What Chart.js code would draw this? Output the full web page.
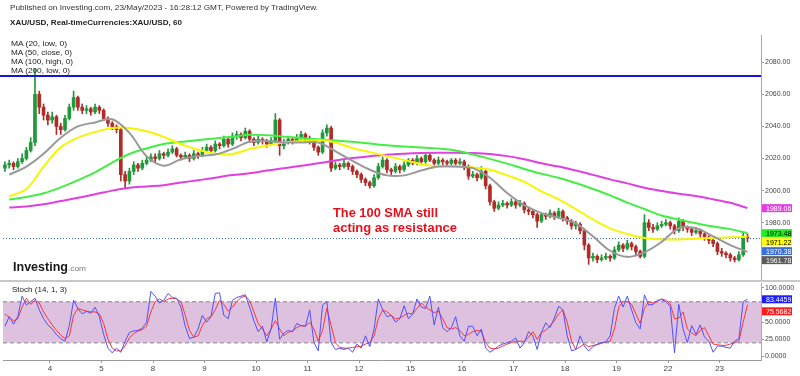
<!DOCTYPE html>
<html>
<head>
<meta charset="utf-8">
<script src="https://cdn.jsdelivr.net/npm/chart.js@4.4.0/dist/chart.umd.min.js"></script>
<style>
  html, body { margin: 0; padding: 0; background: #fff; }
  #wrap { position: relative; width: 800px; height: 376px; overflow: hidden; font-family: "Liberation Sans", Arial, sans-serif; }
  canvas { position: absolute; left: 0; }
  .t { position: absolute; white-space: nowrap; line-height: 1; transform-origin: 0 50%; color: #222; }
  #sep { position: absolute; left: 0; top: 280px; width: 800px; height: 2px; background: #c8c8c8; }
</style>
</head>
<body>
<div id="wrap">
  <canvas id="priceChart" width="800" height="281" style="top:0"></canvas>
  <div id="sep"></div>
  <canvas id="stochChart" width="800" height="95" style="top:281px"></canvas>

  <div class="t" data-w="308" data-cy="8" style="left:10px;font-size:8px;color:#333">Published on Investing.com, 23/May/2023 - 16:28:12 GMT, Powered by TradingView.</div>
  <div class="t" data-w="172" data-cy="23" style="left:10px;font-size:8px;font-weight:bold">XAU/USD, Real-timeCurrencies:XAU/USD, 60</div>
  <div class="t" data-w="56" data-cy="44" style="left:11px;font-size:8px">MA (20, low, 0)</div>
  <div class="t" data-w="61" data-cy="53" style="left:11px;font-size:8px">MA (50, close, 0)</div>
  <div class="t" data-w="62" data-cy="62" style="left:11px;font-size:8px">MA (100, high, 0)</div>
  <div class="t" data-w="59" data-cy="71" style="left:11px;font-size:8px">MA (200, low, 0)</div>
  <div class="t" data-w="105" data-cy="213" style="left:333px;font-size:12px;font-weight:bold;color:#e8101c">The 100 SMA still</div>
  <div class="t" data-w="124" data-cy="228" style="left:333px;font-size:12px;font-weight:bold;color:#e8101c">acting as resistance</div>
  <div class="t" data-w="55" data-cy="267" style="left:13px;font-size:12px;font-weight:bold;color:#1a1a1a">Investing</div>
  <div class="t" data-w="18" data-cy="269" style="left:68px;font-size:8px;color:#777">.com</div>
  <div class="t" data-w="55" data-cy="290" style="left:12px;font-size:8px">Stoch (14, 1, 3)</div>
</div>

<script>
// hourly XAU/USD, sampled every 2 hours (hour 0 = 3 May 00:00, 24 trading hours per day)
const firstCandleHour = 3;
const candleStepHours = 2;
const dayLabels = ['4', '5', '8', '9', '10', '11', '12', '15', '16', '17', '18', '19', '22', '23'];
const priceTicks = [1980, 2000, 2020, 2040, 2060, 2080];
const stochTicks = [0, 25, 50, 100];
const resistanceLevel = 2071.5;
const stochUpper = 80;
const stochLower = 20;

const opens = [
  2014,2016,2017,2015,2018,2020,2025,2030,2060,2052,
  2047,2044,2046,2040,2038,2045,2052,2058,2052,2050,
  2051,2049,2052,2050,2045,2042,2040,2038,2010,2006,
  2012,2016,2014,2017,2019,2021,2020,2023,2022,2024,
  2026,2022,2021,2022,2020,2023,2022,2025,2027,2025,
  2029,2028,2032,2029,2034,2035,2033,2037,2032,2030,
  2032,2031,2029,2031,2044,2028,2030,2032,2031,2033,
  2035,2032,2031,2027,2024,2036,2039,2014,2016,2015,
  2017,2015,2012,2010,2007,2005,2003,2008,2015,2019,
  2013,2012,2015,2013,2016,2019,2017,2020,2018,2022,
  2019,2017,2019,2018,2017,2019,2017,2018,2015,2009,
  2010,2008,2012,2003,1993,1989,1991,1992,1991,1993,
  1991,1992,1988,1987,1985,1981,1985,1984,1986,1984,
  1987,1983,1981,1978,1979,1975,1966,1958,1959,1957,
  1958,1959,1958,1963,1966,1964,1967,1965,1962,1959,
  1980,1977,1976,1978,1979,1980,1978,1975,1981,1977,
  1976,1974,1975,1973,1971,1969,1967,1962,1961,1960,
  1958,1957,1960,1971
];
const highs = [
  2018,2019,2018,2020,2023,2027,2033,2076,2062,2054,
  2049,2049,2047,2042,2047,2054,2062,2059,2054,2053,
  2052,2054,2053,2051,2046,2043,2041,2039,2012,2014,
  2018,2017,2019,2021,2023,2023,2025,2024,2026,2028,
  2027,2023,2024,2023,2025,2024,2027,2029,2028,2031,
  2030,2034,2033,2036,2037,2036,2039,2038,2033,2034,
  2033,2032,2033,2048,2045,2032,2034,2033,2035,2037,
  2036,2034,2032,2028,2038,2041,2040,2018,2017,2019,
  2018,2016,2013,2011,2008,2006,2010,2017,2021,2020,
  2014,2017,2016,2018,2020,2020,2022,2021,2023,2023,
  2020,2021,2020,2019,2020,2020,2020,2019,2016,2012,
  2011,2015,2013,2004,1994,1993,1994,1993,1995,1994,
  1994,1993,1989,1988,1986,1986,1986,1988,1987,1989,
  1988,1984,1982,1981,1980,1976,1967,1961,1960,1960,
  1961,1960,1965,1968,1967,1969,1968,1966,1963,1985,
  1982,1979,1980,1981,1982,1981,1979,1983,1982,1978,
  1977,1977,1976,1974,1972,1970,1968,1964,1962,1961,
  1959,1962,1974,1973
];
const lows = [
  2012,2014,2013,2014,2017,2019,2024,2028,2048,2044,
  2041,2042,2035,2035,2037,2044,2050,2050,2048,2048,
  2047,2048,2048,2044,2040,2038,2036,2006,2001.5,2004,
  2010,2012,2013,2016,2018,2018,2019,2020,2021,2023,
  2021,2019,2020,2018,2019,2020,2021,2024,2023,2024,
  2026,2027,2027,2028,2032,2031,2032,2030,2028,2029,
  2029,2027,2028,2030,2022,2026,2029,2029,2030,2032,
  2030,2029,2025,2022,2023,2034,2012,2013,2013,2014,
  2013,2010,2008,2005,2003,2001.5,2002,2007,2014,2011,
  2010,2011,2011,2012,2015,2016,2016,2016,2017,2018,
  2015,2016,2016,2015,2016,2016,2016,2013,2007,2008,
  2006,2007,2001,1991,1987,1988,1990,1989,1990,1989,
  1990,1986,1985,1983,1977,1980,1982,1983,1982,1983,
  1981,1979,1976,1976,1973,1963,1954,1956,1955,1956,
  1957,1956,1957,1962,1962,1963,1963,1960,1958,1958,
  1975,1974,1975,1977,1978,1976,1973,1974,1975,1974,
  1972,1973,1971,1969,1967,1965,1960,1959,1958,1956,
  1955.5,1956,1959,1968
];
const closes = [
  2016,2017,2015,2018,2020,2025,2030,2060,2052,2047,
  2044,2046,2040,2038,2045,2052,2058,2052,2050,2051,
  2049,2052,2050,2045,2042,2040,2038,2010,2006,2012,
  2016,2014,2017,2019,2021,2020,2023,2022,2024,2026,
  2022,2021,2022,2020,2023,2022,2025,2027,2025,2029,
  2028,2032,2029,2034,2035,2033,2037,2032,2030,2032,
  2031,2029,2031,2044,2028,2030,2032,2031,2033,2035,
  2032,2031,2027,2024,2036,2039,2014,2016,2015,2017,
  2015,2012,2010,2007,2005,2003,2008,2015,2019,2013,
  2012,2015,2013,2016,2019,2017,2020,2018,2022,2019,
  2017,2019,2018,2017,2019,2017,2018,2015,2009,2010,
  2008,2012,2003,1993,1989,1991,1992,1991,1993,1991,
  1992,1988,1987,1985,1981,1985,1984,1986,1984,1987,
  1983,1981,1978,1979,1975,1966,1958,1959,1957,1958,
  1959,1958,1963,1966,1964,1967,1965,1962,1959,1980,
  1977,1976,1978,1979,1980,1978,1975,1981,1977,1976,
  1974,1975,1973,1971,1969,1967,1962,1961,1960,1958,
  1957,1960,1971,1970.38
];

// moving averages read every 4th candle, starting at candle 1
const maFirstCandle = 1;
const maStepCandles = 4;
const ma20Low = [
  2010,2015,2023,2033,2040,2042.5,2044.5,2036,2021.5,2015.5,
  2019.5,2021.5,2022.5,2026,2030.5,2031,2030,2030,2030,2024.5,
  2018.5,2013,2009.5,2009.5,2012.5,2015,2015,2014,2008,1998.5,
  1991,1986,1983,1979.5,1971.5,1962.5,1958.7,1961.5,1968,1976.5,
  1976.5,1971.5,1966,1961.78
];
const ma50Close = [
  1996.5,2001,2015,2027,2033,2036.5,2039,2039,2037,2033.5,
  2029,2025.5,2023,2022.8,2026,2028,2030,2031,2031.5,2030,
  2026.5,2024,2021.5,2019,2016.5,2015,2015,2014.5,2013,2009.5,
  2005.5,1999.5,1994.5,1988.5,1982,1976.5,1973,1970.5,1969.6,1969.5,
  1970,1970.5,1971,1971.22
];
const ma100High = [
  1994.5,1996,1998.3,2002,2006.5,2011.4,2017.5,2022.8,2026.3,2029,
  2030.4,2031.5,2032.5,2033.6,2034.8,2034.5,2033.6,2032.8,2032,2031.2,
  2030.4,2029.3,2028.2,2027.5,2026.9,2026.2,2025,2022.5,2019.8,2016.8,
  2013.5,2010.5,2008,2004.7,2001,1997,1992.5,1988.5,1984.5,1982,
  1979.7,1977.6,1976,1973.48
];
const ma200Low = [
  1989.5,1990.1,1991.5,1993.5,1995.5,1997.7,2000,2001.8,2002.6,2003.4,
  2005,2006.5,2008,2009.7,2010.8,2012.5,2014,2015.5,2017,2018.8,
  2020.3,2021.4,2022.4,2023,2023.4,2023.6,2023.6,2023.4,2022.8,2021.5,
  2019.5,2017,2015,2012.5,2009.8,2007,2004.5,2001.8,1999.8,1998,
  1996.6,1994.6,1992.4,1989.06
];

// stochastic (14, 1, 3), same 2-hour sampling as the candles
const stochK = [
  44,58,47,58,88,75,80,85,68,55,
  46,40,32,26,22,45,82,70,62,66,
  63,72,58,32,12,5,12,6,22,35,
  37,38,41,50,95,88,78,82,92,86,
  85,72,44,26,28,40,60,50,58,92,
  93,60,55,82,86,88,90,72,52,36,
  44,21,40,85,25,34,38,36,48,45,
  44,68,20,8,75,80,20,10,12,10,
  12,6,18,12,30,14,40,84,68,58,
  60,50,55,74,55,62,84,72,70,88,
  46,72,42,36,42,58,30,22,44,44,
  30,40,12,6,10,15,18,20,22,27,
  12,20,36,30,10,35,49,42,56,73,
  68,30,8,10,30,15,8,14,18,20,
  21,30,70,88,72,88,68,49,40,90,
  75,76,82,83,80,73,5,76,40,20,
  45,32,46,28,22,6,15,15,13,12,
  22,26,80,83.4459
];
const stochD = [
  62,57,52,55,72,85,76,82,78,65,
  55,46,38,31,26,30,60,70,68,66,
  65,65,62,48,25,12,8,8,15,27,
  33,37,39,44,65,80,84,80,84,85,
  84,80,60,38,28,30,45,55,58,68,
  82,76,66,72,80,86,88,82,65,48,
  40,30,40,52,40,30,35,37,42,45,
  44,50,40,22,38,70,45,20,13,12,
  12,13,14,15,18,20,30,55,68,65,
  60,55,56,60,63,62,70,78,72,68,
  64,66,55,42,40,42,38,30,32,36,
  38,36,20,12,11,12,15,18,20,22,
  22,22,28,36,25,35,38,45,52,62,
  68,50,22,10,14,18,14,16,17,19,
  21,22,40,72,80,80,76,62,48,70,
  80,78,80,84,82,77,55,56,65,40,
  34,30,38,42,30,18,17,16,16,18,
  20,22,50,75.5682
];

const FONT = '"Liberation Sans", Arial, sans-serif';
const UP = '#20993a';
const DOWN = '#b02c28';
const X_MIN = 2.1, X_MAX = 355.3;

const hourAt = i => firstCandleHour + i * candleStepHours;
const maPoints = arr => arr.map((v, k) => ({ x: hourAt(maFirstCandle + k * maStepCandles), y: v }));
const candleColor = ctx => closes[ctx.dataIndex] >= opens[ctx.dataIndex] ? UP : DOWN;
const lastClose = closes[closes.length - 1];

function fixPadding(s) { s.paddingTop = 0; s.paddingBottom = 0; s.paddingLeft = 0; s.paddingRight = 0; }

function drawBadges(chart, items, digits, gap) {
  const { ctx, chartArea, scales: { y } } = chart;
  const h = 8;
  const list = items.map(it => Object.assign({}, it, { py: y.getPixelForValue(it.value) }))
    .sort((a, b) => a.py - b.py);
  let prev = -Infinity;
  ctx.save();
  ctx.font = '7px ' + FONT;
  ctx.textBaseline = 'middle';
  list.forEach(it => {
    const cy = Math.max(it.py, prev + gap);
    prev = cy;
    ctx.fillStyle = it.bg;
    ctx.fillRect(chartArea.right + 1, cy - h / 2, 30, h);
    ctx.fillStyle = it.fg;
    ctx.fillText(it.value.toFixed(digits), chartArea.right + 5, cy + 0.5);
  });
  ctx.restore();
}

const priceExtras = {
  id: 'priceExtras',
  beforeDatasetsDraw(chart) {
    const { ctx, chartArea, scales: { y } } = chart;
    ctx.save();
    const py = Math.round(y.getPixelForValue(lastClose)) + 0.5;
    ctx.strokeStyle = '#3a6fd8';
    ctx.lineWidth = 1;
    ctx.setLineDash([1, 2]);
    ctx.beginPath(); ctx.moveTo(chartArea.left, py); ctx.lineTo(chartArea.right, py); ctx.stroke();
    ctx.restore();
  },
  afterDatasetsDraw(chart) {
    const { ctx, chartArea, scales: { y } } = chart;
    ctx.save();
    const py = y.getPixelForValue(resistanceLevel);
    ctx.strokeStyle = '#1414e0';
    ctx.lineWidth = 2;
    ctx.beginPath(); ctx.moveTo(0, py); ctx.lineTo(chartArea.right, py); ctx.stroke();
    ctx.restore();
  },
  afterDraw(chart) {
    drawBadges(chart, [
      { value: ma200Low[ma200Low.length - 1], bg: '#e33be3', fg: '#fff' },
      { value: ma100High[ma100High.length - 1], bg: '#22ee22', fg: '#000' },
      { value: ma50Close[ma50Close.length - 1], bg: '#ffff00', fg: '#000' },
      { value: lastClose, bg: '#3a6fd8', fg: '#fff' },
      { value: ma20Low[ma20Low.length - 1], bg: '#5a5a5a', fg: '#fff' }
    ], 2, 9);
  }
};

const stochExtras = {
  id: 'stochExtras',
  beforeDatasetsDraw(chart) {
    const { ctx, chartArea, scales: { y } } = chart;
    const top = y.getPixelForValue(stochUpper), bot = y.getPixelForValue(stochLower);
    ctx.save();
    ctx.fillStyle = '#dec1de';
    ctx.fillRect(chartArea.left, top, chartArea.right - chartArea.left, bot - top);
    ctx.strokeStyle = '#a8a0a8';
    ctx.lineWidth = 1.5;
    ctx.setLineDash([4, 3]);
    [top, bot].forEach(p => {
      ctx.beginPath(); ctx.moveTo(chartArea.left, p); ctx.lineTo(chartArea.right, p); ctx.stroke();
    });
    ctx.restore();
  },
  afterDraw(chart) {
    drawBadges(chart, [
      { value: stochK[stochK.length - 1], bg: '#1c1cff', fg: '#fff' },
      { value: stochD[stochD.length - 1], bg: '#ff1a1a', fg: '#fff' }
    ], 4, 12);
  }
};

const rightAxis = (ticksArr, min, max, digits) => ({
  position: 'right', min, max,
  afterBuildTicks: s => { s.ticks = ticksArr.map(v => ({ value: v })); },
  afterFit: s => { s.width = 39; fixPadding(s); },
  grid: { display: true, drawOnChartArea: false, drawTicks: true, tickLength: 3, color: '#999' },
  border: { display: true, color: '#aaa' },
  ticks: { font: { size: 7, family: FONT }, color: '#444', padding: 1, callback: v => Number(v).toFixed(digits) }
});

new Chart(document.getElementById('priceChart'), {
  type: 'bar',
  data: {
    datasets: [
      {
        type: 'bar', order: 10, grouped: false, barThickness: 1,
        data: highs.map((h, i) => ({ x: hourAt(i), y: [lows[i], h] })),
        backgroundColor: candleColor
      },
      {
        type: 'bar', order: 9, grouped: false, barThickness: 3, minBarLength: 1,
        data: closes.map((c, i) => ({ x: hourAt(i), y: [opens[i], c] })),
        backgroundColor: candleColor
      },
      { type: 'line', order: 4, data: maPoints(ma200Low), borderColor: '#e040e0', borderWidth: 2, pointRadius: 0, tension: 0.35 },
      { type: 'line', order: 3, data: maPoints(ma100High), borderColor: '#44ee44', borderWidth: 2, pointRadius: 0, tension: 0.35 },
      { type: 'line', order: 2, data: maPoints(ma50Close), borderColor: '#f6f600', borderWidth: 2, pointRadius: 0, tension: 0.35 },
      { type: 'line', order: 1, data: maPoints(ma20Low), borderColor: '#999999', borderWidth: 2, pointRadius: 0, tension: 0.35 }
    ]
  },
  options: {
    responsive: false, animation: false, devicePixelRatio: 1, events: [],
    layout: { padding: { left: 3, top: 35, right: 0, bottom: 2 } },
    plugins: { legend: { display: false }, tooltip: { enabled: false } },
    scales: {
      x: { type: 'linear', min: X_MIN, max: X_MAX, offset: false, display: false },
      y: rightAxis(priceTicks, 1944.9, 2097.0, 2)
    }
  },
  plugins: [priceExtras]
});

new Chart(document.getElementById('stochChart'), {
  type: 'line',
  data: {
    datasets: [
      { data: stochK.map((v, i) => ({ x: hourAt(i), y: v })), borderColor: '#5050ff', borderWidth: 1, pointRadius: 0, tension: 0 },
      { data: stochD.map((v, i) => ({ x: hourAt(i), y: v })), borderColor: '#ff3535', borderWidth: 1, pointRadius: 0, tension: 0 }
    ]
  },
  options: {
    responsive: false, animation: false, devicePixelRatio: 1, events: [],
    layout: { padding: { left: 3, top: 2, right: 0, bottom: 0 } },
    plugins: { legend: { display: false }, tooltip: { enabled: false } },
    scales: {
      x: {
        type: 'linear', min: X_MIN, max: X_MAX, offset: false,
        afterBuildTicks: s => { s.ticks = dayLabels.map((d, k) => ({ value: (k + 1) * 24 })); },
        afterFit: s => { s.height = 16; fixPadding(s); },
        grid: { display: true, drawOnChartArea: false, drawTicks: true, tickLength: 3, color: '#999' },
        border: { display: true, color: '#999' },
        ticks: { font: { size: 8, family: FONT }, color: '#444', padding: 1, maxRotation: 0, autoSkip: false,
                 callback: (v, idx) => dayLabels[idx] }
      },
      y: rightAxis(stochTicks, -5.4, 107.3, 4)
    }
  },
  plugins: [stochExtras]
});

// fit the overlay texts to the widths measured on the picture
document.querySelectorAll('.t').forEach(el => {
  const fs = parseFloat(el.style.fontSize);
  el.style.top = (Number(el.dataset.cy) - fs * 0.52) + 'px';
  const w = el.getBoundingClientRect().width;
  el.style.transform = 'scaleX(' + (Number(el.dataset.w) / w) + ')';
});
</script>
</body>
</html>
